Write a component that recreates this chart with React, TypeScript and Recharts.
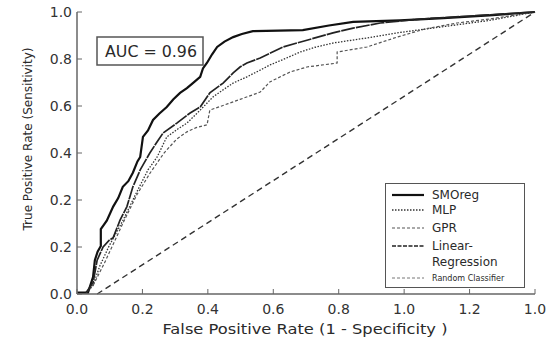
import React from "react";
import {
  LineChart,
  Line,
  XAxis,
  YAxis,
  Legend,
  Customized,
} from "recharts";

// values, as fraction of each axis (0..1)
const SMO_FPR = [0, 0.024, 0.035, 0.039, 0.045, 0.052, 0.052, 0.065, 0.079, 0.09, 0.1, 0.112, 0.122, 0.132, 0.138, 0.144, 0.155, 0.166, 0.18, 0.196, 0.21, 0.225, 0.24, 0.253, 0.269, 0.275, 0.284, 0.295, 0.306, 0.322, 0.341, 0.36, 0.384, 0.44, 0.493, 0.55, 0.603, 0.705, 0.8, 0.9, 1];
const SMO_TPR = [0.005, 0.005, 0.06, 0.12, 0.15, 0.17, 0.23, 0.26, 0.31, 0.34, 0.38, 0.4, 0.43, 0.47, 0.486, 0.557, 0.58, 0.617, 0.64, 0.663, 0.69, 0.713, 0.73, 0.748, 0.77, 0.8, 0.82, 0.85, 0.876, 0.895, 0.911, 0.922, 0.932, 0.934, 0.936, 0.952, 0.965, 0.97, 0.978, 0.988, 1];

const LR_FPR = [0.02, 0.035, 0.044, 0.057, 0.07, 0.079, 0.094, 0.109, 0.122, 0.138, 0.159, 0.175, 0.188, 0.218, 0.247, 0.269, 0.29, 0.319, 0.341, 0.356, 0.371, 0.4, 0.45, 0.502, 0.559, 0.603, 0.662, 0.75, 0.85, 1];
const LR_TPR = [0.005, 0.04, 0.12, 0.167, 0.19, 0.2, 0.262, 0.31, 0.38, 0.44, 0.5, 0.54, 0.571, 0.606, 0.642, 0.663, 0.713, 0.748, 0.784, 0.805, 0.819, 0.837, 0.876, 0.9, 0.926, 0.943, 0.961, 0.975, 0.985, 1];

const MLP_FPR = [0.02, 0.035, 0.05, 0.07, 0.1, 0.13, 0.155, 0.175, 0.196, 0.22, 0.24, 0.269, 0.297, 0.32, 0.341, 0.371, 0.4, 0.421, 0.455, 0.487, 0.52, 0.559, 0.633, 0.699, 0.777, 0.9, 1];
const MLP_TPR = [0.005, 0.03, 0.1, 0.17, 0.26, 0.36, 0.44, 0.486, 0.557, 0.585, 0.606, 0.652, 0.699, 0.725, 0.748, 0.77, 0.794, 0.812, 0.835, 0.858, 0.875, 0.89, 0.908, 0.926, 0.943, 0.97, 1];

const GPR_FPR = [0.02, 0.035, 0.06, 0.1, 0.13, 0.16, 0.19, 0.218, 0.24, 0.26, 0.284, 0.29, 0.33, 0.356, 0.4, 0.421, 0.465, 0.502, 0.568, 0.568, 0.633, 0.699, 0.76, 0.83, 0.9, 1];
const GPR_TPR = [0.005, 0.03, 0.11, 0.25, 0.35, 0.43, 0.5, 0.55, 0.575, 0.59, 0.6, 0.652, 0.675, 0.69, 0.716, 0.752, 0.787, 0.805, 0.819, 0.858, 0.876, 0.911, 0.94, 0.961, 0.975, 1];

const RANDOM_FPR = [0.044, 1];
const RANDOM_TPR = [0, 1];

const X_TICK_LABELS = ["0.0", "0.2", "0.4", "0.6", "0.8", "1.0", "1.2", "1.0"];
const Y_TICK_LABELS = ["0.0", "0.2", "0.2", "0.4", "0.6", "0.8", "1.0"];

const zip = (xs: number[], ys: number[]) => xs.map((x, i) => ({ x, y: ys[i] }));

const xTicks = X_TICK_LABELS.map((_, i) => i / (X_TICK_LABELS.length - 1));
const yTicks = Y_TICK_LABELS.map((_, i) => i / (Y_TICK_LABELS.length - 1));
const xLabel = (v: number) => X_TICK_LABELS[Math.round(v * (X_TICK_LABELS.length - 1))];
const yLabel = (v: number) => Y_TICK_LABELS[Math.round(v * (Y_TICK_LABELS.length - 1))];

const FONT = "'DejaVu Sans', sans-serif";
const INK = "#2a2a2a";

const SERIES = [
  { name: "SMOreg", data: zip(SMO_FPR, SMO_TPR), width: 2.2, dash: undefined, color: "#111" },
  { name: "MLP", data: zip(MLP_FPR, MLP_TPR), width: 1.3, dash: "1.5 1.5", color: "#333" },
  { name: "GPR", data: zip(GPR_FPR, GPR_TPR), width: 1.2, dash: "3 2", color: "#555" },
  { name: "Linear-Regression", data: zip(LR_FPR, LR_TPR), width: 1.7, dash: "14 1", color: "#222" },
  { name: "Random Classifier", data: zip(RANDOM_FPR, RANDOM_TPR), width: 1.4, dash: "6 4", color: "#333" },
];

const LegendBox = () => {
  const rows = [
    { label: "SMOreg", top: 3, s: SERIES[0], dash: undefined },
    { label: "MLP", top: 18, s: SERIES[1], dash: "1.5 1.5" },
    { label: "GPR", top: 36, s: SERIES[2], dash: "3 2" },
    { label: "Linear-", top: 54, s: SERIES[3], dash: "4 1.5" },
    { label: "Regression", top: 70, s: null, dash: undefined },
  ];
  return (
    <div
      style={{
        position: "relative",
        width: 140,
        height: 105,
        border: "1.5px solid #555",
        background: "#fff",
        boxSizing: "border-box",
        fontFamily: FONT,
        color: INK,
      }}
    >
      {rows.map((r) => (
        <div key={r.label} style={{ position: "absolute", left: 6, top: r.top, height: 16, display: "flex", alignItems: "center", fontSize: 12 }}>
          <svg width={32} height={10} style={{ marginRight: 8, visibility: r.s ? "visible" : "hidden" }}>
            {r.s && (
              <line x1={0} y1={5} x2={32} y2={5} stroke={r.s.color} strokeWidth={r.s.width} strokeDasharray={r.dash} />
            )}
          </svg>
          {r.label}
        </div>
      ))}
      <div style={{ position: "absolute", left: 6, top: 88, height: 12, display: "flex", alignItems: "center", fontSize: 8 }}>
        <svg width={32} height={10} style={{ marginRight: 8 }}>
          <line x1={0} y1={5} x2={32} y2={5} stroke="#777" strokeWidth={1} strokeDasharray="3 2" />
        </svg>
        Random Classifier
      </div>
    </div>
  );
};

const Annotations = () => (
  <g fontFamily={FONT} fill={INK}>
    <rect x={97} y={37} width={106} height={28} fill="#fff" stroke="#555" strokeWidth={1.5} />
    <text x={151} y={57} textAnchor="middle" fontSize={15} textLength={92} lengthAdjust="spacingAndGlyphs">
      AUC = 0.96
    </text>
    <text
      x={27}
      y={139}
      textAnchor="middle"
      dominantBaseline="central"
      fontSize={13}
      textLength={183}
      lengthAdjust="spacingAndGlyphs"
      transform="rotate(-90 27 139)"
    >
      True Positive Rate (Sensitivity)
    </text>
    <text x={305} y={334} textAnchor="middle" fontSize={14} textLength={285} lengthAdjust="spacingAndGlyphs">
      False Positive Rate (1 - Specificity )
    </text>
  </g>
);

const tickStyle = { fontFamily: FONT, fontSize: 14, fill: "#333" };

export default function App() {
  return (
    <div style={{ position: "absolute", left: 0, top: 0, background: "#fff" }}>
      <LineChart width={554} height={341} margin={{ top: 12, right: 19, left: 0, bottom: 0 }}>
        <XAxis
          xAxisId="b"
          dataKey="x"
          type="number"
          domain={[0, 1]}
          ticks={xTicks}
          tickFormatter={xLabel}
          tickSize={-5}
          tickMargin={15}
          height={47}
          tick={tickStyle}
          axisLine={{ stroke: "#666", strokeWidth: 1.5 }}
          tickLine={{ stroke: "#666" }}
        />
        <XAxis
          xAxisId="t"
          orientation="top"
          dataKey="x"
          type="number"
          domain={[0, 1]}
          ticks={xTicks}
          tickFormatter={() => ""}
          tickSize={-5}
          height={0}
          axisLine={{ stroke: "#888", strokeWidth: 1.5 }}
          tickLine={{ stroke: "#888" }}
        />
        <YAxis
          yAxisId="l"
          type="number"
          domain={[0, 1]}
          ticks={yTicks}
          tickFormatter={yLabel}
          tickSize={-5}
          tickMargin={10}
          width={77}
          tick={tickStyle}
          axisLine={{ stroke: "#666", strokeWidth: 1.5 }}
          tickLine={{ stroke: "#666" }}
        />
        <YAxis
          yAxisId="r"
          orientation="right"
          type="number"
          domain={[0, 1]}
          ticks={yTicks}
          tickFormatter={() => ""}
          tickSize={-5}
          width={0}
          axisLine={{ stroke: "#888", strokeWidth: 1.5 }}
          tickLine={{ stroke: "#888" }}
        />
        {SERIES.map((s) => (
          <Line
            key={s.name}
            xAxisId="b"
            yAxisId="l"
            data={s.data}
            dataKey="y"
            name={s.name}
            type="linear"
            stroke={s.color}
            strokeWidth={s.width}
            strokeDasharray={s.dash}
            dot={false}
            activeDot={false}
            isAnimationActive={false}
          />
        ))}
        <Legend
          layout="vertical"
          align="center"
          verticalAlign="middle"
          content={() => <LegendBox />}
          wrapperStyle={{ left: 385, top: 183, width: 140, height: 105 }}
        />
        <Customized component={Annotations} />
      </LineChart>
    </div>
  );
}
